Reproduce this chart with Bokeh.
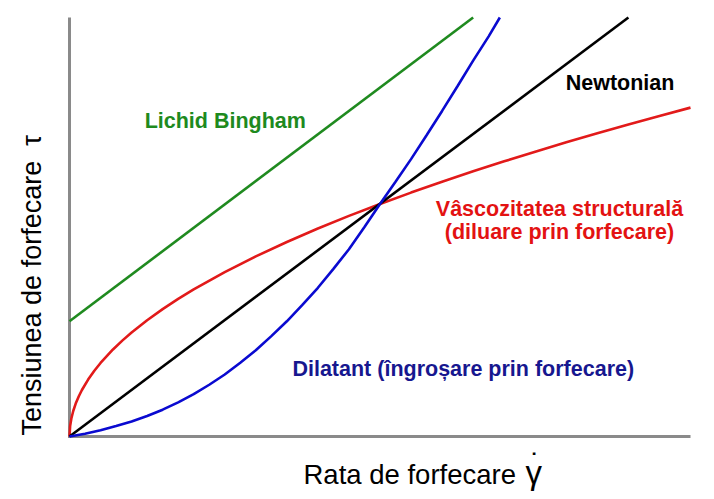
from bokeh.plotting import figure
from bokeh.models import Range1d, Label, BoxAnnotation
from bokeh.embed import file_html
from bokeh.resources import INLINE

# ---- data (units: shear rate 0..10, stress 0..10) ----
newton_x = [0.0, 9.0]
newton_y = [0.0, 10.0]

bingham_x = [0.0, 6.5]
bingham_y = [2.75, 10.0]

thin_x = [0, 0.01, 0.03, 0.06, 0.1, 0.15, 0.2, 0.3, 0.4, 0.5, 0.7, 0.85, 1, 1.25, 1.5, 1.75,
          2, 2.5, 3, 3.5, 4, 4.5, 5, 5.5, 6, 6.5, 7, 7.5, 8, 8.5, 9, 9.5, 10]
thin_y = [0, 0.248, 0.430, 0.608, 0.785, 0.961, 1.110, 1.359, 1.570, 1.755, 2.077, 2.288,
          2.482, 2.775, 3.040, 3.283, 3.510, 3.924, 4.299, 4.643, 4.964, 5.265, 5.550,
          5.821, 6.080, 6.328, 6.567, 6.797, 7.020, 7.236, 7.446, 7.650, 7.849]

thick_x = [0, 0.25, 0.5, 0.75, 1.0, 1.25, 1.5, 1.75, 2.0, 2.25, 2.5, 2.75, 3.0, 3.25, 3.5,
           3.75, 4.0, 4.25, 4.5, 4.75, 5.0, 5.25, 5.5, 5.75, 6.0, 6.25, 6.5, 6.75, 6.93]
thick_y = [0, 0.065, 0.15, 0.25, 0.36, 0.49, 0.64, 0.815, 1.01, 1.235, 1.48, 1.76, 2.06,
           2.395, 2.75, 3.14, 3.55, 4.00, 4.47, 5.00, 5.55, 6.08, 6.62, 7.19, 7.77, 8.365,
           8.97, 9.55, 10.0]

x_max = 10.0
y_max = 10.0

x_title = "Rata de forfecare"
x_symbol = "γ"
y_title = "Tensiunea de forfecare\u00a0\u00a0τ"
lbl_bingham = "Lichid Bingham"
lbl_newton = "Newtonian"
lbl_thin1 = "Vâscozitatea structurală"
lbl_thin2 = "(diluare prin forfecare)"
lbl_thick = "Dilatant (îngroșare prin forfecare)"

FONT = "Liberation Sans"
PX_X = 62.1   # pixels per x unit
PX_Y = 41.9   # pixels per y unit

p = figure(width=714, height=499, output_backend="svg", toolbar_location=None,
           x_range=Range1d(-69 / PX_X, (714 - 69) / PX_X),
           y_range=Range1d(-(499 - 436) / PX_Y, 436 / PX_Y),
           x_axis_location=None, y_axis_location=None,
           min_border=0, min_border_left=0, min_border_right=0,
           min_border_top=0, min_border_bottom=0)
p.grid.visible = False
p.outline_line_color = None
p.background_fill_color = "white"
p.border_fill_color = "white"

# axis lines (3 px, grey)
axis_col = "#8a8a8a"
hx = 1.5 / PX_X
hy = 1.5 / PX_Y
p.add_layout(BoxAnnotation(left=-hx, right=hx, bottom=-hy, top=y_max,
                           fill_color=axis_col, fill_alpha=1, line_color=None, level="underlay"))
p.add_layout(BoxAnnotation(left=-hx, right=x_max, bottom=-hy, top=hy,
                           fill_color=axis_col, fill_alpha=1, line_color=None, level="underlay"))

lw = 2.6
p.line(bingham_x, bingham_y, line_color="#1f8a1f", line_width=lw)
p.line(thin_x, thin_y, line_color="#e21a1a", line_width=lw)
p.line(newton_x, newton_y, line_color="#000000", line_width=lw)
p.line(thick_x, thick_y, line_color="#0a0ad0", line_width=lw)

def lab(x, y, text, color, size, bold=True, align="left", angle=0.0, font=FONT):
    p.add_layout(Label(x=x, y=y, text=text, text_color=color, text_font=font,
                       text_font_size=size, text_font_style="bold" if bold else "normal",
                       text_align=align, text_baseline="alphabetic", angle=angle))

lab(1.21, 7.54, lbl_bingham, "#1e8a1e", "21.5px")
lab(7.99, 8.43, lbl_newton, "#000000", "21.5px")
lab(7.89, 5.42, lbl_thin1, "#e31212", "21.5px", align="center")
lab(7.89, 4.88, lbl_thin2, "#e31212", "21.5px", align="center")
lab(3.59, 1.60, lbl_thick, "#17178f", "21.5px")

# axis titles
lab((303 - 69) / PX_X, (436 - 474) / PX_Y, x_title, "#000000", "27.5px", bold=False)
lab((525 - 69) / PX_X, (436 - 472) / PX_Y, x_symbol, "#000000", "33px", bold=False)
lab((535 - 69) / PX_X, (436 - 463) / PX_Y, "\u02d9", "#000000", "30px", bold=False, align="center")
lab((31 - 69) / PX_X, (436 - 435) / PX_Y, y_title, "#000000", "27px", bold=False,
    angle=1.5707963267948966)

open("out.html", "w").write(file_html(p, INLINE))
